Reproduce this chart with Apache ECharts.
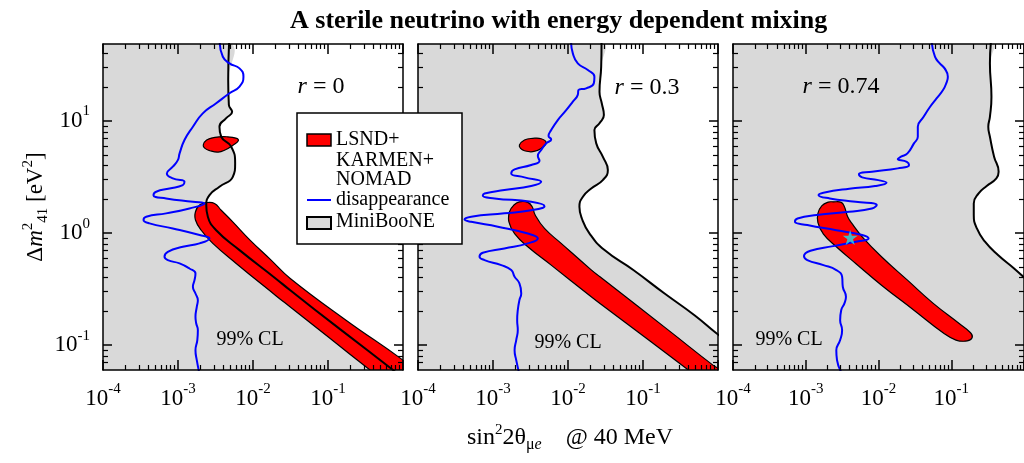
<!DOCTYPE html>
<html>
<head>
<meta charset="utf-8">
<script src="https://cdn.jsdelivr.net/npm/echarts@6/dist/echarts.min.js"></script>
<style>
  html, body { margin: 0; padding: 0; background: #fff; }
  #chart { width: 1024px; height: 463px; }
</style>
</head>
<body>
<div id="chart"></div>
<script>
// axis ranges and tick values
const xRange = [1e-4, 1];
const yRange = [0.06, 48.7];
const xMajorTicks = [1e-4, 1e-3, 1e-2, 1e-1, 1];
const xLabelValues = [1e-4, 1e-3, 1e-2, 1e-1];
const yMajorTicks = [0.1, 1, 10];
const yLabelValues = [0.1, 1, 10];

// ---- r = 0 ----
const miniboone_r0 = [[4.8e-3,50],[4.67e-3,23.2],[4.77e-3,13.9],[5.27e-3,12.1],[4.39e-3,10.6],[3.57e-3,8.9],[3.77e-3,7.24],[5.12e-3,5.9],[5.78e-3,4.19],[5.38e-3,3.18],[3.57e-3,2.59],[2.63e-3,2.18],[2.38e-3,1.78],[2.5e-3,1.4],[3.23e-3,1.06],[6.61e-3,0.705],[2.04e-2,0.39],[3.11e-2,0.31],[0.1445,0.139],[0.736,0.06],[1.09,0.0487]];
const disapp_r0 = [[3.6e-3,50],[3.96e-3,37.5],[4.86e-3,32.7],[6.61e-3,29.5],[7.46e-3,24.9],[6.61e-3,20.3],[4.86e-3,17.7],[3.23e-3,14.4],[2.14e-3,11.7],[1.58e-3,8.9],[1.22e-3,6.77],[1.05e-3,5.14],[9.95e-4,4.48],[8.53e-4,3.91],[7.1e-4,3.41],[8.53e-4,3.08],[1.22e-3,2.87],[1.16e-3,2.68],[7.71e-4,2.5],[5.12e-4,2.34],[4.71e-4,2.18],[6.95e-4,2.04],[1.58e-3,1.9],[2.25e-3,1.84],[1.42e-3,1.66],[6.95e-4,1.5],[3.77e-4,1.4],[3.47e-4,1.31],[4.17e-4,1.22],[8.53e-4,1.1],[1.94e-3,0.96],[2.63e-3,0.895],[1.94e-3,0.81],[1.16e-3,0.755],[7.31e-4,0.681],[6.61e-4,0.615],[7.31e-4,0.574],[1.05e-3,0.536],[1.42e-3,0.483],[1.71e-3,0.436],[1.66e-3,0.38],[1.58e-3,0.332],[1.71e-3,0.289],[1.84e-3,0.252],[1.78e-3,0.22],[1.71e-3,0.179],[1.75e-3,0.156],[1.84e-3,0.136],[1.81e-3,0.111],[1.71e-3,0.09],[1.78e-3,0.0735],[1.94e-3,0.055]];
const lsnd_r0_band = [[2.38e-3,1.87],[3.07e-3,1.84],[3.77e-3,1.6],[5.41e-3,1.253],[9.12e-3,0.866],[1.69e-2,0.586],[3.11e-2,0.396],[0.174,0.167],[1.0,0.0735],[1.3,0.062],[1.3,0.04],[0.54,0.0487],[0.363,0.06],[0.106,0.115],[3.11e-2,0.22],[2.04e-2,0.275],[5.97e-3,0.536],[2.91e-3,0.81],[2.04e-3,1.06],[1.71e-3,1.31],[1.71e-3,1.55],[1.94e-3,1.78]];
const lsnd_r0_island = [[2.17e-3,6.1],[2.41e-3,6.77],[3.11e-3,7.15],[4.46e-3,7.24],[6.07e-3,7.01],[6.37e-3,6.67],[5.46e-3,6.1],[4.23e-3,5.51],[3.44e-3,5.28],[2.67e-3,5.43],[2.29e-3,5.7]];

// ---- r = 0.3 ----
const miniboone_r03 = [[2.8e-2,50],[2.77e-2,30.6],[2.63e-2,18.3],[2.82e-2,14.4],[3.01e-2,11.3],[2.63e-2,9.54],[2.25e-2,8.31],[2.38e-2,6.32],[2.91e-2,4.81],[3.4e-2,3.65],[2.91e-2,2.97],[2.04e-2,2.5],[1.58e-2,2.11],[1.42e-2,1.72],[1.53e-2,1.35],[1.94e-2,0.99],[3.07e-2,0.705],[7.43e-2,0.468],[0.194,0.289],[0.486,0.185],[0.962,0.127],[1.3,0.11]];
const disapp_r03 = [[1.1e-2,50],[1.16e-2,40.2],[1.35e-2,32.7],[1.84e-2,28.5],[2.25e-2,24.9],[2.21e-2,21.7],[1.75e-2,19.6],[1.38e-2,18.9],[1.35e-2,17.1],[1.16e-2,14.9],[9.46e-3,12.5],[7.31e-3,10.2],[5.97e-3,8.31],[5.5e-3,7.35],[5.97e-3,6.86],[5.12e-3,6.32],[4.39e-3,5.51],[3.96e-3,4.87],[4.17e-3,4.42],[3.23e-3,4.05],[1.94e-3,3.7],[1.75e-3,3.41],[2.63e-3,3.14],[4.39e-3,2.87],[3.23e-3,2.63],[1.42e-3,2.42],[7.71e-4,2.26],[7.31e-4,2.15],[1.05e-3,2.04],[3.23e-3,1.9],[4.86e-3,1.74],[3.23e-3,1.6],[1.42e-3,1.5],[5.12e-4,1.4],[4.17e-4,1.32],[5.12e-4,1.26],[1.16e-3,1.14],[2.91e-3,0.99],[3.96e-3,0.895],[2.91e-3,0.81],[1.42e-3,0.73],[7.31e-4,0.667],[6.61e-4,0.615],[7.71e-4,0.574],[1.29e-3,0.518],[1.75e-3,0.468],[1.94e-3,0.408],[2.25e-3,0.356],[2.38e-3,0.289],[2.25e-3,0.252],[2.14e-3,0.205],[2.1e-3,0.167],[2.14e-3,0.136],[2.04e-3,0.111],[1.94e-3,0.09],[2.04e-3,0.0735],[2.25e-3,0.055]];
const lsnd_r03_band = [[2.25e-3,1.9],[2.91e-3,1.88],[3.33e-3,1.72],[3.65e-3,1.45],[4.86e-3,1.1],[8.11e-3,0.81],[2.04e-2,0.47],[2.67e-2,0.408],[0.238,0.13],[0.865,0.066],[1.3,0.055],[1.3,0.04],[0.6,0.0487],[0.402,0.06],[0.124,0.109],[2.67e-2,0.235],[2.04e-2,0.27],[5.97e-3,0.518],[2.91e-3,0.755],[1.94e-3,0.99],[1.63e-3,1.26],[1.66e-3,1.55],[1.9e-3,1.78]];
const lsnd_r03_island = [[2.25e-3,6.1],[2.63e-3,6.77],[3.4e-3,7.0],[4.39e-3,6.95],[5.12e-3,6.4],[4.39e-3,5.7],[3.4e-3,5.33],[2.63e-3,5.43],[2.33e-3,5.7]];

// ---- r = 0.74 ----
const miniboone_r074 = [[0.35,50],[0.34,32.7],[0.357,16.5],[0.34,10.9],[0.323,8.9],[0.34,7.24],[0.388,4.81],[0.448,3.53],[0.417,3.08],[0.307,2.63],[0.238,2.26],[0.204,1.84],[0.204,1.45],[0.225,1.1],[0.291,0.838],[0.439,0.637],[0.731,0.483],[1.22,0.356]];
const disapp_r074 = [[5.4e-2,50],[5.97e-2,37.5],[6.95e-2,32.7],[8.11e-2,29.5],[8.98e-2,24.9],[8.53e-2,21.7],[7.71e-2,18.9],[6.28e-2,15.9],[5.12e-2,13.4],[4.17e-2,10.9],[3.47e-2,8.9],[3.47e-2,7.24],[3.07e-2,6.32],[2.5e-2,5.14],[2.04e-2,4.81],[1.84e-2,4.58],[2.45e-2,4.33],[2.63e-2,4.05],[1.84e-2,3.78],[8.11e-3,3.53],[5.38e-3,3.36],[5.97e-3,3.14],[9.95e-3,2.97],[1.29e-2,2.81],[8.98e-3,2.63],[3.96e-3,2.49],[1.75e-3,2.29],[1.5e-3,2.18],[2.14e-3,2.04],[4.86e-3,1.9],[9.46e-3,1.78],[8.11e-3,1.66],[3.96e-3,1.55],[1.42e-3,1.45],[7.71e-4,1.35],[7.1e-4,1.26],[1.05e-3,1.18],[2.63e-3,1.06],[5.97e-3,0.96],[7.31e-3,0.895],[4.86e-3,0.838],[2.38e-3,0.765],[1.16e-3,0.695],[9.46e-4,0.624],[1.05e-3,0.574],[1.75e-3,0.518],[2.63e-3,0.468],[3.16e-3,0.408],[3.23e-3,0.332],[3.57e-3,0.27],[3.4e-3,0.236],[3.07e-3,0.205],[2.97e-3,0.167],[3.16e-3,0.136],[2.97e-3,0.111],[2.63e-3,0.09],[2.69e-3,0.0735],[3.2e-3,0.055]];
const lsnd_r074 = [[2.38e-3,1.9],[3.07e-3,1.88],[3.4e-3,1.72],[3.77e-3,1.4],[4.39e-3,1.2],[5.97e-3,0.927],[1.1e-2,0.615],[2.5e-2,0.38],[5.66e-2,0.236],[0.1285,0.156],[0.184,0.129],[0.194,0.117],[0.166,0.109],[0.116,0.111],[7.71e-2,0.129],[3.07e-2,0.205],[1.1e-2,0.343],[4.86e-3,0.536],[2.63e-3,0.755],[1.75e-3,0.98],[1.47e-3,1.24],[1.47e-3,1.5],[1.66e-3,1.75],[2.04e-3,1.89]];
const bestfit_r074 = [[4.08e-3,0.914]];

// far corners used to close the excluded (grey) area
const closeCorners = [[3,0.03],[5e-5,0.03],[5e-5,80]];

const FONT = 'Liberation Serif';
const GREY = '#d9d9d9';

function minorTicks(lo, hi) {
  const out = [];
  for (let e = Math.floor(Math.log10(lo)) - 1; e <= Math.ceil(Math.log10(hi)); e++) {
    for (let m = 2; m <= 9; m++) {
      const v = m * Math.pow(10, e);
      if (v > lo && v < hi) out.push(v);
    }
  }
  return out;
}
const xMinor = minorTicks(xRange[0], xRange[1]);
const yMinor = minorTicks(yRange[0], yRange[1]);

const tickRich = {
  b: { fontFamily: FONT, fontSize: 23, lineHeight: 34, color: '#000' },
  s: { fontFamily: FONT, fontSize: 15, lineHeight: 10, verticalAlign: 'top', color: '#000' }
};
function powLabel(v) {
  return '{b|10}{s|' + Math.round(Math.log10(v)) + '}';
}

const gridLefts = [103, 418, 733];
const grid = gridLefts.map(l => ({ left: l, top: 44, width: 300, height: 326 }));

const xAxis = [], yAxis = [];
const line = { color: '#000', width: 1.5 };
const minorLine = { color: '#000', width: 1.2 };
gridLefts.forEach((l, g) => {
  const common = { gridIndex: g, type: 'log', splitLine: { show: false }, z: 10, silent: true };
  const xc = Object.assign({}, common, { min: xRange[0], max: xRange[1] });
  const yc = Object.assign({}, common, { min: yRange[0], max: yRange[1] });
  xAxis.push(
    Object.assign({}, xc, { position: 'bottom', axisLine: { show: true, lineStyle: line },
      axisTick: { show: true, inside: true, length: 10, customValues: xMajorTicks, lineStyle: line },
      axisLabel: { show: true, customValues: xLabelValues, formatter: powLabel, rich: tickRich, margin: 12, showMinLabel: true } }),
    Object.assign({}, xc, { position: 'top', axisLine: { show: true, lineStyle: line },
      axisTick: { show: true, inside: true, length: 10, customValues: xMajorTicks, lineStyle: line },
      axisLabel: { show: false } }),
    Object.assign({}, xc, { position: 'bottom', axisLine: { show: false },
      axisTick: { show: true, inside: true, length: 5, customValues: xMinor, lineStyle: minorLine },
      axisLabel: { show: false } }),
    Object.assign({}, xc, { position: 'top', axisLine: { show: false },
      axisTick: { show: true, inside: true, length: 5, customValues: xMinor, lineStyle: minorLine },
      axisLabel: { show: false } })
  );
  yAxis.push(
    Object.assign({}, yc, { position: 'left', axisLine: { show: true, lineStyle: line },
      axisTick: { show: true, inside: true, length: 9, customValues: yMajorTicks, lineStyle: line },
      axisLabel: { show: g === 0, customValues: yLabelValues, formatter: powLabel, rich: tickRich, margin: 13 } }),
    Object.assign({}, yc, { position: 'right', axisLine: { show: true, lineStyle: line },
      axisTick: { show: true, inside: true, length: 9, customValues: yMajorTicks, lineStyle: line },
      axisLabel: { show: false } }),
    Object.assign({}, yc, { position: 'left', axisLine: { show: false },
      axisTick: { show: true, inside: true, length: 5, customValues: yMinor, lineStyle: minorLine },
      axisLabel: { show: false } }),
    Object.assign({}, yc, { position: 'right', axisLine: { show: false },
      axisTick: { show: true, inside: true, length: 5, customValues: yMinor, lineStyle: minorLine },
      axisLabel: { show: false } })
  );
});

function area(points, g, style, z) {
  return {
    type: 'custom', xAxisIndex: 4 * g, yAxisIndex: 4 * g, clip: true, silent: true, z: z,
    data: points,
    renderItem: function (params, api) {
      if (params.context.rendered) return;
      params.context.rendered = true;
      return { type: 'polygon', shape: { points: points.map(p => api.coord(p)), smooth: 0.45 }, style: style };
    }
  };
}
function curve(points, g, color, width, z) {
  return {
    type: 'line', xAxisIndex: 4 * g, yAxisIndex: 4 * g, data: points, smooth: 0.5,
    symbol: 'none', silent: true, z: z, lineStyle: { color: color, width: width }
  };
}

const panels = [
  { boundary: miniboone_r0, disapp: disapp_r0, regions: [lsnd_r0_band, lsnd_r0_island] },
  { boundary: miniboone_r03, disapp: disapp_r03, regions: [lsnd_r03_band, lsnd_r03_island] },
  { boundary: miniboone_r074, disapp: disapp_r074, regions: [lsnd_r074] }
];

const series = [];
panels.forEach((p, g) => {
  series.push(area(p.boundary.concat(closeCorners), g, { fill: GREY }, 1));
  p.regions.forEach(r => series.push(area(r, g, { fill: '#ff0000', stroke: '#000', lineWidth: 1.2 }, 2)));
  series.push(curve(p.boundary, g, '#000', 2, 3));
  series.push(curve(p.disapp, g, '#0000ff', 2, 4));
});
series.push({
  type: 'scatter', xAxisIndex: 8, yAxisIndex: 8, data: bestfit_r074, z: 6, silent: true,
  symbol: 'path://M50,0 L61,35 L98,35 L68,57 L79,91 L50,70 L21,91 L32,57 L2,35 L39,35 Z',
  symbolSize: 15, itemStyle: { color: '#19e3f0' }
});

const txt = (x, y, text, rich, extra) => Object.assign({
  type: 'text', x: x, y: y, z: 100,
  style: Object.assign({ text: text, rich: rich, fontFamily: FONT, fill: '#000', align: 'center', verticalAlign: 'middle' }, extra || {})
});
const rRich = { i: { fontFamily: FONT, fontSize: 24, fontStyle: 'italic' }, n: { fontFamily: FONT, fontSize: 24 } };
const clStyle = { fontSize: 20 };
const legendText = { fontFamily: FONT, fontSize: 20, fill: '#000', align: 'left', verticalAlign: 'middle' };

const graphic = [
  // panel annotations
  txt(321, 87, '{i|r}{n| = 0}', rRich),
  txt(647, 88, '{i|r}{n| = 0.3}', rRich),
  txt(841, 87, '{i|r}{n| = 0.74}', rRich),
  txt(250, 340, '99% CL', null, clStyle),
  txt(568, 343, '99% CL', null, clStyle),
  txt(789, 340, '99% CL', null, clStyle),
  // title
  txt(290, 21, 'A sterile neutrino with energy dependent mixing', null, { fontSize: 26, fontWeight: 'bold', align: 'left' }),
  // x axis title
  txt(570, 438, '{b|sin}{s|2}{b|2θ}{u|μ}{e|e}{b|    @ 40 MeV}', {
    b: { fontFamily: FONT, fontSize: 24, lineHeight: 30 },
    s: { fontFamily: FONT, fontSize: 15, lineHeight: 10, verticalAlign: 'top' },
    u: { fontFamily: FONT, fontSize: 16, lineHeight: 2, verticalAlign: 'bottom' },
    e: { fontFamily: FONT, fontSize: 16, lineHeight: 2, verticalAlign: 'bottom', fontStyle: 'italic' }
  }),
  // y axis title
  Object.assign(txt(36, 207, '{b|Δ}{i|m}{s|2}{u|41}{b| [eV}{s|2}{b|]}', {
    b: { fontFamily: FONT, fontSize: 23, lineHeight: 30 },
    i: { fontFamily: FONT, fontSize: 23, lineHeight: 30, fontStyle: 'italic' },
    s: { fontFamily: FONT, fontSize: 15, lineHeight: 10, verticalAlign: 'top' },
    u: { fontFamily: FONT, fontSize: 15, lineHeight: 2, verticalAlign: 'bottom' }
  }), { rotation: Math.PI / 2 }),
  // legend box
  { type: 'rect', z: 100, shape: { x: 297, y: 113, width: 165, height: 131 }, style: { fill: '#fff', stroke: '#000', lineWidth: 1.5 } },
  { type: 'rect', z: 101, shape: { x: 307, y: 134, width: 24, height: 12 }, style: { fill: '#ff0000', stroke: '#000', lineWidth: 1.5 } },
  { type: 'text', z: 101, x: 336, y: 140, style: Object.assign({ text: 'LSND+' }, legendText) },
  { type: 'text', z: 101, x: 336, y: 161, style: Object.assign({ text: 'KARMEN+' }, legendText) },
  { type: 'text', z: 101, x: 336, y: 180, style: Object.assign({ text: 'NOMAD' }, legendText) },
  { type: 'line', z: 101, shape: { x1: 307, y1: 200, x2: 331, y2: 200 }, style: { stroke: '#0000ff', lineWidth: 2 } },
  { type: 'text', z: 101, x: 336, y: 200, style: Object.assign({ text: 'disappearance' }, legendText) },
  { type: 'rect', z: 101, shape: { x: 307, y: 217, width: 24, height: 12 }, style: { fill: GREY, stroke: '#000', lineWidth: 2 } },
  { type: 'text', z: 101, x: 336, y: 222, style: Object.assign({ text: 'MiniBooNE' }, legendText) }
];

const chart = echarts.init(document.getElementById('chart'), null, { renderer: 'canvas' });
chart.setOption({
  animation: false,
  backgroundColor: '#fff',
  grid: grid,
  xAxis: xAxis,
  yAxis: yAxis,
  series: series,
  graphic: graphic
});
</script>
</body>
</html>
